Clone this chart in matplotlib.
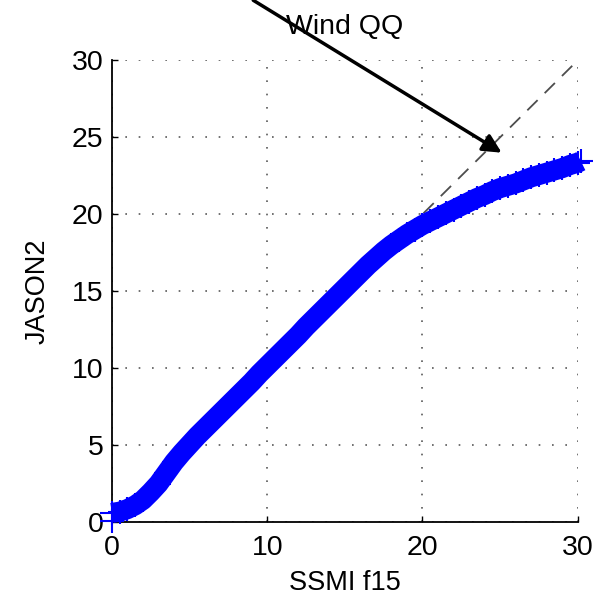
import matplotlib
matplotlib.use("Agg")
import matplotlib.pyplot as plt

plt.rcParams['font.family'] = ['Liberation Sans', 'DejaVu Sans']

# QQ quantiles
ssmi = [0, 0, 0.5, 1.0, 1.5, 2.0, 2.5, 3.0, 3.5, 4.0, 4.5, 5.0, 5.5, 6.0, 6.5, 7.0,
        7.5, 8.0, 8.5, 9.0, 9.5, 10.0, 10.5, 11.0, 11.5, 12.0, 12.5, 13.0, 13.5,
        14.0, 14.5, 15.0, 15.5, 16.0, 16.5, 17.0, 17.5, 18.0, 18.5, 19.0, 19.5,
        20.0, 20.5, 21.0, 21.5, 22.0, 22.5, 23.0, 23.5, 24.0, 24.5, 25.0, 25.5,
        26.0, 26.5, 27.0, 27.5, 28.0, 28.5, 29.0, 29.5, 30.0, 30.2]
jason2 = [0.1, 0.6, 0.68, 0.85, 1.1, 1.45, 1.95, 2.5, 3.2, 3.9, 4.5, 5.05, 5.6, 6.1,
          6.6, 7.1, 7.6, 8.1, 8.6, 9.1, 9.65, 10.15, 10.65, 11.15, 11.65, 12.15,
          12.7, 13.2, 13.7, 14.2, 14.7, 15.2, 15.7, 16.2, 16.7, 17.15, 17.6, 18.0,
          18.35, 18.7, 19.0, 19.3, 19.55, 19.8, 20.05, 20.3, 20.55, 20.8, 21.05,
          21.25, 21.5, 21.7, 21.85, 22.0, 22.2, 22.4, 22.55, 22.7, 22.85, 23.0,
          23.2, 23.35, 23.45]
diag = [0, 30]
xticks = [0, 10, 20, 30]
yticks = [0, 5, 10, 15, 20, 25, 30]
arrow_start = (9.1, 33.9)
arrow_end = (25.1, 24.0)

fig = plt.figure(figsize=(6.05, 6.03), dpi=100)
ax = fig.add_axes([0.185, 0.134, 0.770, 0.766])

# dense band of '+' quantile markers
ax.plot(ssmi[1:], jason2[1:], linestyle='-', linewidth=14.5, color='#0000ff',
        solid_capstyle='butt', solid_joinstyle='round', clip_on=False, zorder=3)
ax.plot(ssmi, jason2, linestyle='none', marker='+', markersize=17,
        markeredgewidth=1.5, color='#0000ff', clip_on=False, zorder=3)
ax.plot(diag, diag, linestyle=(0, (8, 5.5)), color='0.3', linewidth=1.3, zorder=2)

ax.set_xlim(0, 30)
ax.set_ylim(0, 30)
ax.set_xticks(xticks)
ax.set_yticks(yticks)
ax.tick_params(direction='in', length=4, labelsize=20.5, width=1)
ax.tick_params(axis='x', pad=9)
ax.tick_params(axis='y', pad=6)
ax.grid(True, linestyle=(0, (1, 7)), color='0.35', linewidth=1.2)
ax.spines['top'].set_visible(False)
ax.spines['right'].set_visible(False)
for s in ['left', 'bottom']:
    ax.spines[s].set_linewidth(1.3)

ax.set_title('Wind QQ', fontsize=20.5, pad=19)
ax.set_xlabel('SSMI f15', fontsize=19.5, labelpad=7)
ax.set_ylabel('JASON2', fontsize=19.5, labelpad=15)

ax.annotate('', xy=arrow_end, xytext=arrow_start, xycoords='data',
            annotation_clip=False,
            arrowprops=dict(arrowstyle='-|>', color='black', lw=2.5,
                            mutation_scale=28, shrinkA=0, shrinkB=0))

fig.savefig('out.png', dpi=100)
